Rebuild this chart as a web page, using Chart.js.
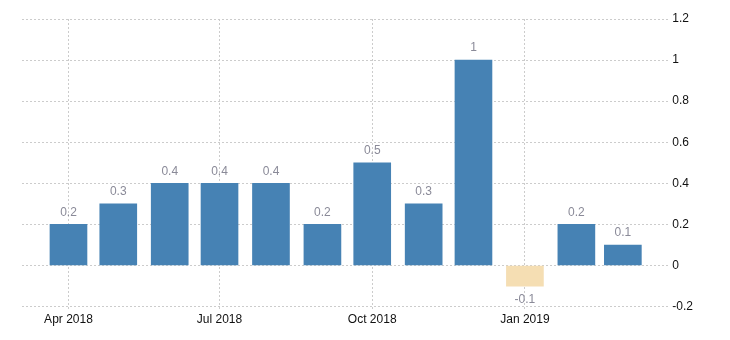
<!DOCTYPE html>
<html>
<head>
<meta charset="utf-8">
<script src="https://cdn.jsdelivr.net/npm/chart.js@4.4.0/dist/chart.umd.min.js"></script>
<style>
    body { margin: 0; background: #fff; }
    #wrap { width: 730px; height: 340px; }
</style>
</head>
<body>
<div id="wrap"><canvas id="mainChart" width="730" height="340"></canvas></div>
<script>
// monthly values, bars sit on the first day of each month
const months = ['2018-04', '2018-05', '2018-06', '2018-07', '2018-08', '2018-09',
                '2018-10', '2018-11', '2018-12', '2019-01', '2019-02', '2019-03'];
const values = [0.2, 0.3, 0.4, 0.4, 0.4, 0.2, 0.5, 0.3, 1, -0.1, 0.2, 0.1];
const tickMonths = ['2018-04', '2018-07', '2018-10', '2019-01'];
const tickLabels = ['Apr 2018', 'Jul 2018', 'Oct 2018', 'Jan 2019'];
const yTicks = [-0.2, 0, 0.2, 0.4, 0.6, 0.8, 1, 1.2];

function toDay(m) {
    const p = m.split('-');
    return Date.UTC(+p[0], +p[1] - 1, 1) / 86400000;
}

const points = months.map((m, i) => ({ x: toDay(m), y: values[i] }));
const tickDays = tickMonths.map(toDay);

const FONT = "'Liberation Sans', Arial, sans-serif";

const valueLabels = {
    id: 'valueLabels',
    afterDatasetsDraw(chart) {
        const ctx = chart.ctx;
        const meta = chart.getDatasetMeta(0);
        ctx.save();
        ctx.font = '12px ' + FONT;
        ctx.fillStyle = '#8a8a98';
        ctx.textAlign = 'center';
        meta.data.forEach((bar, i) => {
            const v = values[i];
            if (v >= 0) {
                ctx.textBaseline = 'bottom';
                ctx.fillText(String(v), bar.x, bar.y - 6);
            } else {
                ctx.textBaseline = 'top';
                ctx.fillText(String(v), bar.x, bar.y + 8);
            }
        });
        ctx.restore();
    }
};

const ctx = document.getElementById('mainChart');
new Chart(ctx, {
    type: 'bar',
    data: {
        datasets: [{
            data: points,
            barThickness: 37,
            backgroundColor: values.map(v => v < 0 ? '#f5deb3' : '#4682b4'),
            borderWidth: 0
        }]
    },
    options: {
        responsive: false,
        animation: false,
        layout: {
            padding: { left: 22, right: 34, top: 19, bottom: 11 }
        },
        plugins: {
            legend: { display: false },
            tooltip: { enabled: false }
        },
        scales: {
            x: {
                type: 'linear',
                offset: false,
                min: toDay('2018-04') - 28,
                max: toDay('2019-01') + 87,
                afterBuildTicks: (axis) => {
                    axis.ticks = tickDays.map(v => ({ value: v }));
                },
                ticks: {
                    autoSkip: false,
                    maxRotation: 0,
                    color: '#111',
                    padding: 2,
                    font: { family: FONT, size: 12 },
                    callback: (v) => tickLabels[tickDays.indexOf(v)]
                },
                grid: {
                    offset: false,
                    color: '#cccccc',
                    tickColor: '#cccccc',
                    tickLength: 4,
                    tickBorderDash: [2, 2]
                },
                border: { display: false, dash: [2, 2] }
            },
            y: {
                position: 'right',
                min: -0.2,
                max: 1.2,
                afterBuildTicks: (axis) => {
                    axis.ticks = yTicks.map(v => ({ value: v }));
                },
                ticks: {
                    color: '#111',
                    padding: 3,
                    font: { family: FONT, size: 12 },
                    callback: (v) => String(Math.round(v * 10) / 10)
                },
                grid: {
                    color: '#cccccc',
                    drawTicks: false
                },
                border: { display: false, dash: [2, 2] }
            }
        }
    },
    plugins: [valueLabels]
});
</script>
</body>
</html>
